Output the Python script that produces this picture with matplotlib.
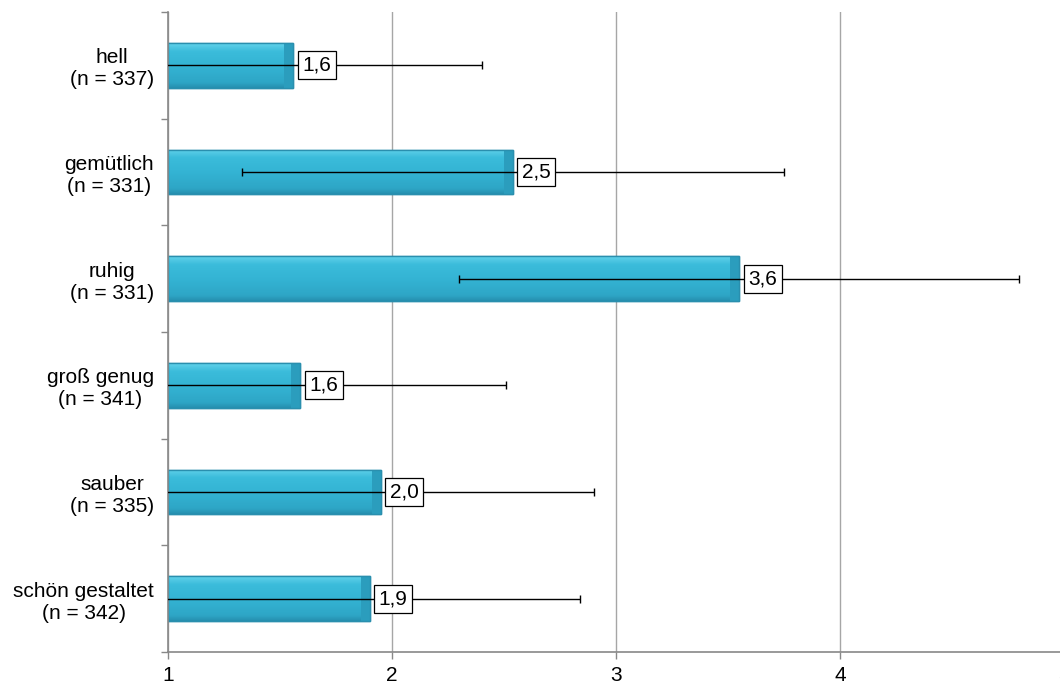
import matplotlib
matplotlib.use('Agg')
import matplotlib.pyplot as plt
from matplotlib.colors import LinearSegmentedColormap
import numpy as np

plt.rcParams['font.family'] = ['Liberation Sans', 'DejaVu Sans']

categories = ['hell\n(n = 337)', 'gemütlich\n(n = 331)', 'ruhig\n(n = 331)',
              'groß genug\n(n = 341)', 'sauber\n(n = 335)', 'schön gestaltet\n(n = 342)']
means = [1.56, 2.54, 3.55, 1.59, 1.95, 1.90]
err_low = [0.72, 1.33, 2.30, 0.67, 0.95, 0.96]
err_high = [2.40, 3.75, 4.80, 2.51, 2.90, 2.84]
value_labels = ['1,6', '2,5', '3,6', '1,6', '2,0', '1,9']
xticks = [1, 2, 3, 4, 5]

fig = plt.figure(figsize=(10.6, 6.87), dpi=100, facecolor='white')
ax = fig.add_axes([168 / 1060, 35 / 687, 896 / 1060, 640 / 687])

y = np.arange(len(categories))[::-1]
lefts = np.ones(len(means))
widths = np.array(means) - 1

# bars, then a vertical gradient clipped to each bar
bars = ax.barh(y, widths, left=lefts, height=0.42, color='#33b4d4', edgecolor='#2a8fae',
               linewidth=1.0, zorder=2)
bar_cmap = LinearSegmentedColormap.from_list(
    'bar', [(0, '#2690b0'), (0.12, '#2ea6c6'), (0.5, '#34b4d4'), (0.82, '#3bbcdb'), (1, '#62d2ea')])
grad = np.linspace(0, 1, 64).reshape(-1, 1)
for p in bars:
    x0, y0, w, h = p.get_x(), p.get_y(), p.get_width(), p.get_height()
    im = ax.imshow(grad, extent=[x0, x0 + w, y0, y0 + h], origin='lower', cmap=bar_cmap,
                   aspect='auto', zorder=2.1, interpolation='bilinear')
    im.set_clip_path(p)
    # darker end cap
    ax.barh(y0 + h / 2, 0.04, left=x0 + w - 0.04, height=h, color='#2b9dbd',
            linewidth=0, zorder=2.2)
ax.barh(y, widths, left=lefts, height=0.42, facecolor='none', edgecolor='#2a8fae',
        linewidth=1.0, zorder=2.3)

xerr = [np.array(means) - np.array(err_low), np.array(err_high) - np.array(means)]
ax.errorbar(means, y, xerr=xerr, fmt='none', ecolor='black', elinewidth=1,
            capsize=3, capthick=1, zorder=3)

for yi, m, lab in zip(y, means, value_labels):
    ax.text(m + 0.04, yi, lab, ha='left', va='center', fontsize=15, zorder=4,
            bbox=dict(boxstyle='square,pad=0.22', facecolor='white', edgecolor='black',
                      linewidth=0.9))

ax.set_xlim(1, 5)
ax.set_ylim(-0.5, len(categories) - 0.5)
ax.set_xticks(xticks)
ax.set_xticklabels([str(t) for t in xticks], fontsize=15)
ax.xaxis.grid(True, color='#a6a6a6', linewidth=1)
ax.set_axisbelow(True)

ax.set_yticks(y)
ax.set_yticklabels(categories, fontsize=15, linespacing=1.2, ha='right',
                   multialignment='center')
ax.tick_params(axis='y', length=0, pad=10)
ax.set_yticks(np.arange(len(categories) + 1) - 0.5, minor=True)
ax.tick_params(axis='y', which='minor', length=5, color='#888888', width=1)
ax.tick_params(axis='x', length=5, color='#888888', width=1, pad=5)

for s in ['top', 'right']:
    ax.spines[s].set_visible(False)
ax.spines['left'].set_color('#888888')
ax.spines['bottom'].set_color('#888888')
ax.spines['left'].set_linewidth(1.2)
ax.spines['bottom'].set_linewidth(1.2)

fig.savefig('out.png', dpi=100)
